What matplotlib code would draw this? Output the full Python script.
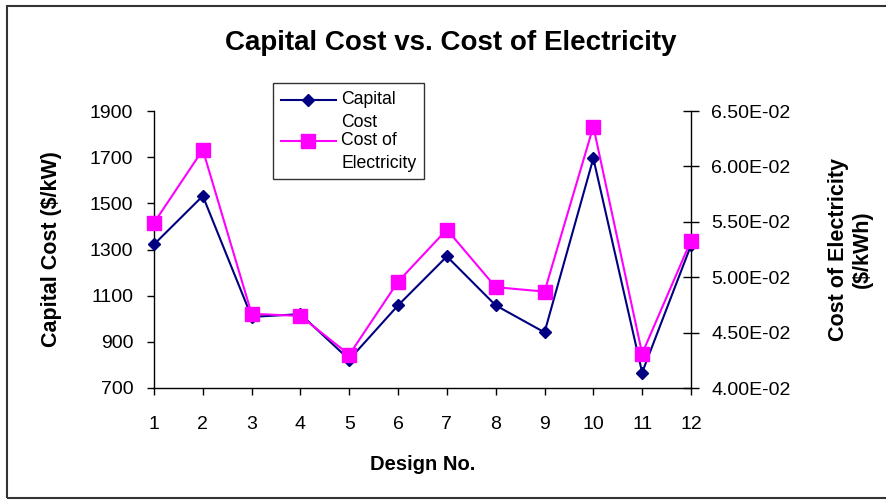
import numpy as np
import matplotlib.pyplot as plt
from matplotlib.patches import Rectangle

plt.rcParams['font.family'] = ['Liberation Sans', 'DejaVu Sans']

design_no = [1, 2, 3, 4, 5, 6, 7, 8, 9, 10, 11, 12]
capital_cost = [1322, 1532, 1008, 1020, 823, 1058, 1270, 1058, 941, 1695, 767, 1318]
cost_of_elec = [0.0549, 0.0615, 0.0467, 0.0465, 0.0430, 0.0496, 0.0543,
                0.0491, 0.0487, 0.0636, 0.0431, 0.0533]

left_ticks = [700, 900, 1100, 1300, 1500, 1700, 1900]
right_ticks = [0.040, 0.045, 0.050, 0.055, 0.060, 0.065]
right_tick_labels = ['4.00E-02', '4.50E-02', '5.00E-02', '5.50E-02', '6.00E-02', '6.50E-02']

fig = plt.figure(figsize=(8.87, 5.0), dpi=100, facecolor='white')
ax = fig.add_axes([0.1736, 0.224, 0.6054, 0.554])
ax2 = ax.twinx()

l1, = ax.plot(design_no, capital_cost, color='#000080', lw=1.5, marker='D',
              ms=6.5, label='Capital\nCost', clip_on=False, zorder=3)
l2, = ax2.plot(design_no, cost_of_elec, color='#FF00FF', lw=1.5, marker='s',
               ms=9.5, label='Cost of\nElectricity', clip_on=False, zorder=3)

ax.set_xlim(1, 12)
ax.set_ylim(700, 1900)
ax2.set_ylim(0.040, 0.065)
ax.set_xticks(design_no)
ax.set_yticks(left_ticks)
ax2.set_yticks(right_ticks)
ax2.set_yticklabels(right_tick_labels)

for a in (ax, ax2):
    a.spines['top'].set_visible(False)
ax.spines['right'].set_visible(False)
ax2.spines['left'].set_visible(False)
ax2.spines['bottom'].set_visible(False)
for s in ('left', 'bottom'):
    ax.spines[s].set_linewidth(1.0)
ax2.spines['right'].set_linewidth(1.0)

ax.tick_params(axis='y', direction='out', length=5, width=1.0, labelsize=14, pad=10)
ax.tick_params(axis='x', direction='out', length=5, width=1.0, labelsize=14, pad=15)
ax2.tick_params(axis='y', direction='inout', length=11, width=1.0, labelsize=14, pad=9)

ax.set_xlabel('Design No.', fontsize=14.5, fontweight='bold', labelpad=16)
ax.set_ylabel('Capital Cost ($/kW)', fontsize=15.5, fontweight='bold', labelpad=20)
ax2.set_ylabel('Cost of Electricity\n($/kWh)', fontsize=15.5, fontweight='bold',
               labelpad=27, linespacing=1.15)

fig.text(0.508, 0.914, 'Capital Cost vs. Cost of Electricity', fontsize=20,
         fontweight='bold', ha='center', va='center')

leg = ax2.legend(handles=[l1, l2], loc='upper left', bbox_to_anchor=(0.308, 0.834),
                 bbox_transform=fig.transFigure, fontsize=12.7, frameon=True,
                 fancybox=False, edgecolor='black', handlelength=3.1,
                 borderpad=0.45, labelspacing=0.05, handletextpad=0.3,
                 borderaxespad=0)
leg.get_frame().set_linewidth(1.0)
for t in leg.get_texts():
    t.set_linespacing(1.45)
# put each handle level with the first line of its label
for h in leg.legend_handles:
    h.set_ydata(np.asarray(h.get_ydata()) + 8)

fig.patches.append(Rectangle((0.0079, 0.004), 1.1, 0.984, transform=fig.transFigure,
                             fill=False, edgecolor='#333333', lw=1.5))

fig.savefig('out.png', dpi=100)
